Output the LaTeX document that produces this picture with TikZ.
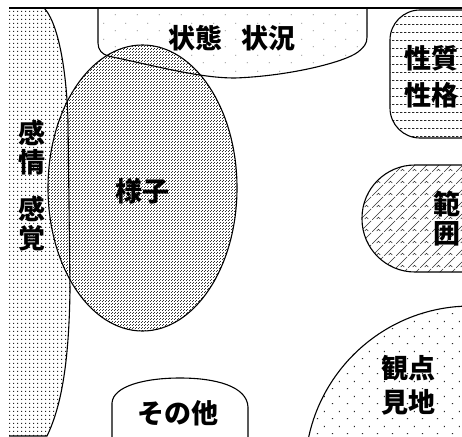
\documentclass[tikz,border=0pt]{standalone}
\usepackage{fontspec}
\newfontfamily\jp{Noto Sans CJK JP}
\usetikzlibrary{patterns}

\pgfdeclarepatternformonly{gridDots}{\pgfqpoint{0pt}{0pt}}{\pgfqpoint{4pt}{4pt}}{\pgfqpoint{4pt}{4pt}}{%
  \pgfpathrectangle{\pgfqpoint{1.5pt}{1.5pt}}{\pgfqpoint{1.25pt}{1.25pt}}\pgfusepath{fill}}
\pgfdeclarepatternformonly{checkDots}{\pgfqpoint{0pt}{0pt}}{\pgfqpoint{3pt}{3pt}}{\pgfqpoint{3pt}{3pt}}{%
  \pgfpathrectangle{\pgfqpoint{0pt}{0pt}}{\pgfqpoint{1.1pt}{1.1pt}}%
  \pgfpathrectangle{\pgfqpoint{1.5pt}{1.5pt}}{\pgfqpoint{1.1pt}{1.1pt}}\pgfusepath{fill}}
\pgfdeclarepatternformonly{hLines}{\pgfqpoint{0pt}{0pt}}{\pgfqpoint{4pt}{8pt}}{\pgfqpoint{4pt}{8pt}}{%
  \pgfsetlinewidth{0.8pt}\pgfpathmoveto{\pgfqpoint{0pt}{4pt}}\pgfpathlineto{\pgfqpoint{2.8pt}{4pt}}\pgfusepath{stroke}}
\pgfdeclarepatternformonly{hatchTicks}{\pgfqpoint{0pt}{0pt}}{\pgfqpoint{12pt}{12pt}}{\pgfqpoint{12pt}{12pt}}{%
  \pgfsetlinewidth{0.5pt}%
  \pgfpathmoveto{\pgfqpoint{0pt}{0pt}}\pgfpathlineto{\pgfqpoint{12pt}{12pt}}%
  \pgfpathmoveto{\pgfqpoint{5pt}{1pt}}\pgfpathlineto{\pgfqpoint{7pt}{3pt}}\pgfpathlineto{\pgfqpoint{9pt}{1pt}}%
  \pgfusepath{stroke}}
\pgfdeclarepatternformonly{sparseTicks}{\pgfqpoint{0pt}{0pt}}{\pgfqpoint{15pt}{15pt}}{\pgfqpoint{15pt}{15pt}}{%
  \pgfpathrectangle{\pgfqpoint{2pt}{3pt}}{\pgfqpoint{1.3pt}{1pt}}%
  \pgfpathrectangle{\pgfqpoint{9.5pt}{10.5pt}}{\pgfqpoint{1pt}{1.3pt}}\pgfusepath{fill}}
\pgfdeclarepatternformonly{sparseDots}{\pgfqpoint{0pt}{0pt}}{\pgfqpoint{22pt}{16pt}}{\pgfqpoint{22pt}{16pt}}{%
  \pgfpathrectangle{\pgfqpoint{5pt}{5pt}}{\pgfqpoint{0.9pt}{0.9pt}}%
  \pgfpathrectangle{\pgfqpoint{16pt}{13pt}}{\pgfqpoint{0.9pt}{0.9pt}}\pgfusepath{fill}}

\begin{document}
\begin{tikzpicture}[x=1pt,y=-1pt,
  outline/.style={draw=black,line width=1.1pt},
  lbl/.style={inner sep=0pt,font=\jp\bfseries\fontsize{27}{29}\selectfont,align=center}]
\useasboundingbox (0,0) rectangle (462,436);
\fill[white] (0,0) rectangle (462,436);
\begin{scope}
\clip (0,0) rectangle (462,436);
% shapes paths
\def\boxpath{(98,8) -- (98,43) .. controls (98,50) and (102,54) .. (108,56) .. controls (160,67) and (200,78) .. (235,78) .. controls (290,76) and (345,62) .. (358,52) .. controls (364,47) and (367,44) .. (367,37) -- (367,8)}
\def\feelpath{(9,8) -- (44,8) .. controls (56,20) and (66,60) .. (68,120) -- (70,290) .. controls (69,360) and (62,405) .. (47,436) -- (9,436)}
% fills
\fill[white] \boxpath -- cycle;
\fill[pattern=sparseDots,pattern color=black!70] \boxpath -- cycle;
\fill[pattern=gridDots,pattern color=black!85] \feelpath -- cycle;
\fill[white] (142.5,188) ellipse [x radius=94.5pt, y radius=143pt];
\fill[pattern=checkDots,pattern color=black!80] (142.5,188) ellipse [x radius=94.5pt, y radius=143pt];
\fill[pattern=hLines,pattern color=black!85] [rounded corners=30pt] (390,10) rectangle (500,138);
\fill[pattern=hatchTicks,pattern color=black!80] [rounded corners=53pt] (362,165) rectangle (520,272);
\fill[pattern=sparseTicks,pattern color=black!85] (471,472) circle [radius=166pt];
% outlines
\draw[outline] \feelpath;
\draw[outline] \boxpath;
\draw[outline] (142.5,188) ellipse [x radius=94.5pt, y radius=143pt];
\draw[outline] [rounded corners=30pt] (390,10) rectangle (500,138);
\draw[outline] [rounded corners=53pt] (362,165) rectangle (520,272);
\draw[outline] (471,472) circle [radius=166pt];
\draw[outline] (112,440) -- (112,403) .. controls (113,386) and (145,378) .. (180,378) .. controls (215,378) and (247,386) .. (248,407) -- (248,440);
\draw[outline] (9,8) -- (462,8);
\end{scope}
% labels
\node[lbl] (jotai) at (232,38) {状態\hspace{20pt}状況};
\node[lbl] (yosu) at (142,191) {様子};
\node[lbl] (kanjo) at (32,148) {感\\情};
\node[lbl] (kankaku) at (32,224) {感\\覚};
\node[lbl,anchor=west] (seishitsu) at (404,58) {性質};
\node[lbl,anchor=west] (seikaku) at (404,95) {性格};
\node[lbl] (han) at (447,204) {範};
\node[lbl] (i) at (447,234) {囲};
\node[lbl] (kanten) at (408,368) {観点};
\node[lbl] (kenchi) at (408,402) {見地};
\node[lbl] (sonota) at (178,413) {その他};
\end{tikzpicture}
\end{document}
